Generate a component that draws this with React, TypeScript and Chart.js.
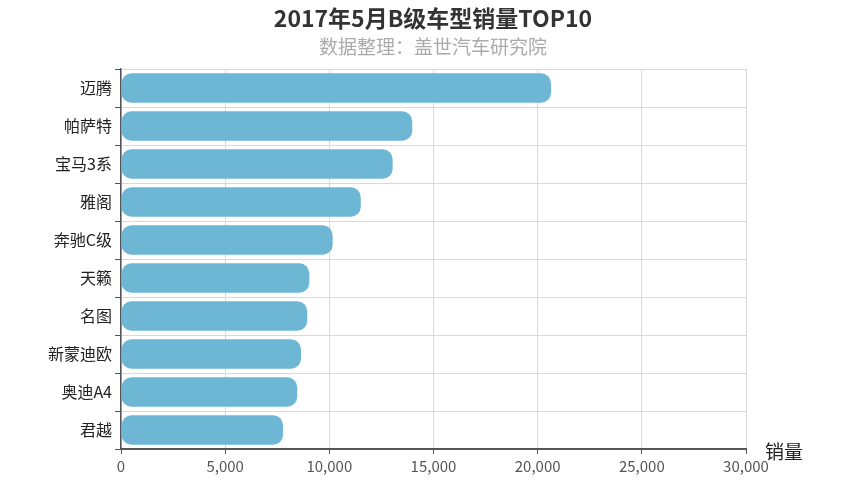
import React, { useEffect, useRef } from "react";
import { Chart, registerables } from "chart.js";

Chart.register(...registerables);

const FONT = '"Noto Sans CJK SC", "Noto Sans", sans-serif';

// 车型与5月销量
const models = ["迈腾", "帕萨特", "宝马3系", "雅阁", "奔驰C级", "天籁", "名图", "新蒙迪欧", "奥迪A4", "君越"];
const sales = [20640, 13980, 13040, 11510, 10160, 9040, 8940, 8640, 8460, 7780];
const xTicks = [0, 5000, 10000, 15000, 20000, 25000, 30000];

const titleText = "2017年5月B级车型销量TOP10";
const subtitleText = "数据整理：盖世汽车研究院";

// 标题居中于整个画布，再加上坐标轴名称 "销量"
const textPlugin = {
  id: "texts",
  afterDraw(chart: any) {
    const { ctx, chartArea, width } = chart;
    ctx.save();
    ctx.textAlign = "center";
    ctx.textBaseline = "middle";
    ctx.font = `bold 23px ${FONT}`;
    ctx.fillStyle = "#333";
    ctx.fillText(titleText, width / 2, 18);
    ctx.font = `19px ${FONT}`;
    ctx.fillStyle = "#aaa";
    ctx.fillText(subtitleText, width / 2, 47);

    ctx.font = `19px ${FONT}`;
    ctx.fillStyle = "#222";
    ctx.textAlign = "left";
    ctx.fillText("销量", chartArea.right + 19, chartArea.bottom + 3);
    ctx.restore();
  },
};

const App = () => {
  const chartRef = useRef<HTMLCanvasElement | null>(null);

  useEffect(() => {
    document.body.style.margin = "0";
    if (!chartRef.current) return;

    const myChart = new Chart(chartRef.current, {
      type: "bar",
      data: {
        labels: models,
        datasets: [
          {
            label: "销量",
            data: sales,
            backgroundColor: "#6db7d4",
            borderRadius: 10,
            borderSkipped: false,
            barPercentage: 0.77,
            categoryPercentage: 1,
          },
        ],
      },
      options: {
        indexAxis: "y",
        responsive: false,
        animation: false,
        layout: { padding: { top: 69, right: 120, bottom: 25, left: 0 } },
        plugins: {
          legend: { display: false },
          tooltip: { enabled: false },
          title: { display: false },
        },
        scales: {
          x: {
            min: 0,
            max: 30000,
            afterBuildTicks: (s: any) => {
              s.ticks = xTicks.map((v) => ({ value: v }));
            },
            afterFit: (s: any) => {
              s.height = 30;
            },
            ticks: {
              color: "#555",
              font: { family: FONT, size: 15 },
              padding: 3,
              maxRotation: 0,
              callback: (v: any) => Number(v).toLocaleString("en-US"),
            },
            grid: {
              color: "#dcd6e0",
              tickColor: "#555",
              tickLength: 5,
            },
            border: { color: "#555", width: 2 },
          },
          y: {
            afterFit: (s: any) => {
              s.width = 121;
            },
            ticks: {
              color: "#222",
              font: { family: FONT, size: 16 },
              padding: 3,
            },
            grid: {
              color: "#dcd6e0",
              tickColor: "#555",
              tickLength: 6,
            },
            border: { color: "#555", width: 1.5 },
          },
        },
      },
      plugins: [textPlugin],
    } as any);

    return () => {
      myChart.destroy();
    };
  }, []);

  return <canvas ref={chartRef} width={866} height={504} />;
};

export default App;
